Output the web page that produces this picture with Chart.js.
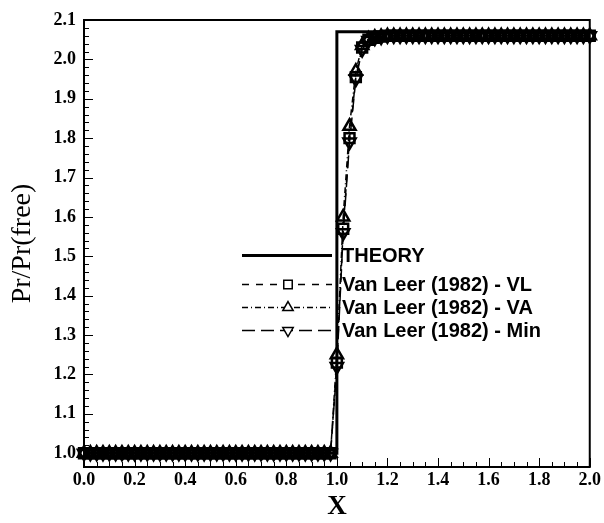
<!DOCTYPE html>
<html>
<head>
<meta charset="utf-8">
<title>Pr/Pr(free) vs X</title>
<script src="https://cdn.jsdelivr.net/npm/chart.js@4.4.1/dist/chart.umd.min.js"></script>
<style>
    html, body { margin: 0; padding: 0; background: #fff; }
    #wrap { width: 604px; height: 523px; }
</style>
</head>
<body>
<div id="wrap"><canvas id="chart" width="604" height="523"></canvas></div>
<script>
// Sample positions along X (same grid for all three schemes)
const xValues = [
    0.000, 0.025, 0.050, 0.075, 0.100, 0.125, 0.150, 0.175, 0.200, 0.225,
    0.250, 0.275, 0.300, 0.325, 0.350, 0.375, 0.400, 0.425, 0.450, 0.475,
    0.500, 0.525, 0.550, 0.575, 0.600, 0.625, 0.650, 0.675, 0.700, 0.725,
    0.750, 0.775, 0.800, 0.825, 0.850, 0.875, 0.900, 0.925, 0.950, 0.975,
    1.000, 1.025, 1.050, 1.075, 1.100, 1.125, 1.150, 1.175, 1.200, 1.225,
    1.250, 1.275, 1.300, 1.325, 1.350, 1.375, 1.400, 1.425, 1.450, 1.475,
    1.500, 1.525, 1.550, 1.575, 1.600, 1.625, 1.650, 1.675, 1.700, 1.725,
    1.750, 1.775, 1.800, 1.825, 1.850, 1.875, 1.900, 1.925, 1.950, 1.975,
    2.000
];

// Van Leer (1982) - VL
const vlValues = [
    1.000, 1.000, 1.000, 1.000, 1.000, 1.000, 1.000, 1.000, 1.000, 1.000,
    1.000, 1.000, 1.000, 1.000, 1.000, 1.000, 1.000, 1.000, 1.000, 1.000,
    1.000, 1.000, 1.000, 1.000, 1.000, 1.000, 1.000, 1.000, 1.000, 1.000,
    1.000, 1.000, 1.000, 1.000, 1.000, 1.000, 1.000, 1.000, 1.000, 1.000,
    1.230, 1.570, 1.800, 1.955, 2.030, 2.050, 2.055, 2.058, 2.060, 2.060,
    2.060, 2.060, 2.060, 2.060, 2.060, 2.060, 2.060, 2.060, 2.060, 2.060,
    2.060, 2.060, 2.060, 2.060, 2.060, 2.060, 2.060, 2.060, 2.060, 2.060,
    2.060, 2.060, 2.060, 2.060, 2.060, 2.060, 2.060, 2.060, 2.060, 2.060,
    2.060
];

// Van Leer (1982) - VA
const vaValues = [
    1.000, 1.000, 1.000, 1.000, 1.000, 1.000, 1.000, 1.000, 1.000, 1.000,
    1.000, 1.000, 1.000, 1.000, 1.000, 1.000, 1.000, 1.000, 1.000, 1.000,
    1.000, 1.000, 1.000, 1.000, 1.000, 1.000, 1.000, 1.000, 1.000, 1.000,
    1.000, 1.000, 1.000, 1.000, 1.000, 1.000, 1.000, 1.000, 1.000, 1.000,
    1.250, 1.600, 1.830, 1.970, 2.035, 2.052, 2.056, 2.058, 2.060, 2.060,
    2.060, 2.060, 2.060, 2.060, 2.060, 2.060, 2.060, 2.060, 2.060, 2.060,
    2.060, 2.060, 2.060, 2.060, 2.060, 2.060, 2.060, 2.060, 2.060, 2.060,
    2.060, 2.060, 2.060, 2.060, 2.060, 2.060, 2.060, 2.060, 2.060, 2.060,
    2.060
];

// Van Leer (1982) - Min
const minValues = [
    1.000, 1.000, 1.000, 1.000, 1.000, 1.000, 1.000, 1.000, 1.000, 1.000,
    1.000, 1.000, 1.000, 1.000, 1.000, 1.000, 1.000, 1.000, 1.000, 1.000,
    1.000, 1.000, 1.000, 1.000, 1.000, 1.000, 1.000, 1.000, 1.000, 1.000,
    1.000, 1.000, 1.000, 1.000, 1.000, 1.000, 1.000, 1.000, 1.000, 1.000,
    1.220, 1.560, 1.790, 1.950, 2.025, 2.048, 2.054, 2.057, 2.060, 2.060,
    2.060, 2.060, 2.060, 2.060, 2.060, 2.060, 2.060, 2.060, 2.060, 2.060,
    2.060, 2.060, 2.060, 2.060, 2.060, 2.060, 2.060, 2.060, 2.060, 2.060,
    2.060, 2.060, 2.060, 2.060, 2.060, 2.060, 2.060, 2.060, 2.060, 2.060,
    2.060
];

// Exact (theory) step solution
const theoryX = [0.0, 1.0, 1.0, 2.0];
const theoryY = [1.0, 1.0, 2.07, 2.07];

// Axis ticks
const xTicks = [0.0, 0.2, 0.4, 0.6, 0.8, 1.0, 1.2, 1.4, 1.6, 1.8, 2.0];
const yTicks = [1.0, 1.1, 1.2, 1.3, 1.4, 1.5, 1.6, 1.7, 1.8, 1.9, 2.0, 2.1];

const legendLabels = ['THEORY', 'Van Leer (1982) - VL', 'Van Leer (1982) - VA', 'Van Leer (1982) - Min'];

function toPoints(xs, ys) {
    return xs.map((x, i) => ({ x: x, y: ys[i] }));
}

// Frame and inward tick marks (major + minor), like the original plot
const frameTicks = {
    id: 'frameTicks',
    afterDraw(chart) {
        const { ctx, chartArea: a, scales: { x, y } } = chart;
        ctx.save();
        ctx.strokeStyle = '#000';
        ctx.lineWidth = 1;
        ctx.beginPath();
        for (let i = 0; i <= 40; i++) {
            const px = Math.round(x.getPixelForValue(i * 0.05)) + 0.5;
            const len = (i % 4 === 0) ? 9 : 5;
            ctx.moveTo(px, a.bottom);
            ctx.lineTo(px, a.bottom - len);
        }
        for (let i = 0; i <= 55; i++) {
            const py = Math.round(y.getPixelForValue(1.0 + i * 0.02)) + 0.5;
            const len = (i % 5 === 0) ? 9 : 5;
            ctx.moveTo(a.left, py);
            ctx.lineTo(a.left + len, py);
        }
        ctx.stroke();
        ctx.lineWidth = 2;
        ctx.strokeRect(a.left, a.top, a.right - a.left, a.bottom - a.top);
        ctx.restore();
    }
};

// Legend drawn inside the plot, no box
const insideLegend = {
    id: 'insideLegend',
    afterDraw(chart) {
        const { ctx } = chart;
        const rows = [255, 284, 307, 330];
        const x0 = 242, x1 = 332, xm = 288;
        ctx.save();
        chart.data.datasets.forEach((ds, i) => {
            const yy = rows[i] + 0.5;
            ctx.strokeStyle = '#000';
            ctx.lineWidth = ds.borderWidth;
            ctx.setLineDash(ds.borderDash || []);
            ctx.beginPath();
            ctx.moveTo(x0, yy);
            ctx.lineTo(x1, yy);
            ctx.stroke();
            ctx.setLineDash([]);
            if (ds.pointRadius > 0) {
                ctx.fillStyle = '#fff';
                ctx.strokeStyle = '#000';
                ctx.lineWidth = 1.5;
                Chart.helpers.drawPoint(ctx, {
                    pointStyle: ds.pointStyle,
                    rotation: ds.pointRotation || 0,
                    radius: 6,
                    borderWidth: 1.5
                }, xm, yy);
            }
            ctx.fillStyle = '#000';
            ctx.font = 'bold 20px "Liberation Sans", Arial, sans-serif';
            ctx.textBaseline = 'middle';
            ctx.textAlign = 'left';
            ctx.fillText(legendLabels[i], 342, rows[i] + 1);
        });
        ctx.restore();
    }
};

Chart.defaults.color = '#000';
Chart.defaults.animation = false;

const markerBase = {
    showLine: true,
    borderColor: '#000',
    borderWidth: 1.5,
    pointRadius: 7,
    pointBorderWidth: 2.5,
    pointBorderColor: '#000',
    pointBackgroundColor: 'rgba(0,0,0,0)',
    clip: false
};

const ctx = document.getElementById('chart');
new Chart(ctx, {
    type: 'scatter',
    data: {
        datasets: [
            {
                label: legendLabels[0],
                data: toPoints(theoryX, theoryY),
                showLine: true,
                borderColor: '#000',
                borderWidth: 3,
                pointRadius: 0,
                fill: false
            },
            Object.assign({}, markerBase, {
                label: legendLabels[1],
                data: toPoints(xValues, vlValues),
                borderDash: [7, 7],
                pointStyle: 'rect'
            }),
            Object.assign({}, markerBase, {
                label: legendLabels[2],
                data: toPoints(xValues, vaValues),
                borderDash: [6, 3, 1, 3],
                pointStyle: 'triangle'
            }),
            Object.assign({}, markerBase, {
                label: legendLabels[3],
                data: toPoints(xValues, minValues),
                borderDash: [13, 6],
                pointStyle: 'triangle',
                pointRotation: 180
            })
        ]
    },
    options: {
        responsive: false,
        maintainAspectRatio: false,
        layout: { padding: { left: 0, right: 12, top: 20, bottom: 0 } },
        plugins: {
            legend: { display: false },
            tooltip: { enabled: false },
            title: { display: false }
        },
        scales: {
            x: {
                type: 'linear',
                min: 0,
                max: 2,
                grid: { display: false, drawTicks: false },
                border: { display: false },
                afterFit(scale) { scale.height = 56; },
                afterBuildTicks(scale) { scale.ticks = xTicks.map(v => ({ value: v })); },
                ticks: {
                    padding: 3,
                    maxRotation: 0,
                    font: { family: '"Liberation Serif", "Times New Roman", serif', size: 18, weight: 'bold' },
                    callback: v => v.toFixed(1)
                },
                title: {
                    display: true,
                    text: 'X',
                    padding: { top: 0, bottom: 0 },
                    font: { family: '"Liberation Serif", "Times New Roman", serif', size: 27, weight: 'bold' }
                }
            },
            y: {
                type: 'linear',
                min: 0.965,
                max: 2.1,
                grid: { display: false, drawTicks: false },
                border: { display: false },
                afterFit(scale) { scale.width = 84; },
                afterBuildTicks(scale) { scale.ticks = yTicks.map(v => ({ value: v })); },
                ticks: {
                    padding: 8,
                    font: { family: '"Liberation Serif", "Times New Roman", serif', size: 18, weight: 'bold' },
                    callback: v => v.toFixed(1)
                },
                title: {
                    display: true,
                    text: 'Pr/Pr(free)',
                    padding: { top: 6, bottom: 4 },
                    font: { family: '"Liberation Serif", "Times New Roman", serif', size: 28 }
                }
            }
        }
    },
    plugins: [frameTicks, insideLegend]
});
</script>
</body>
</html>
